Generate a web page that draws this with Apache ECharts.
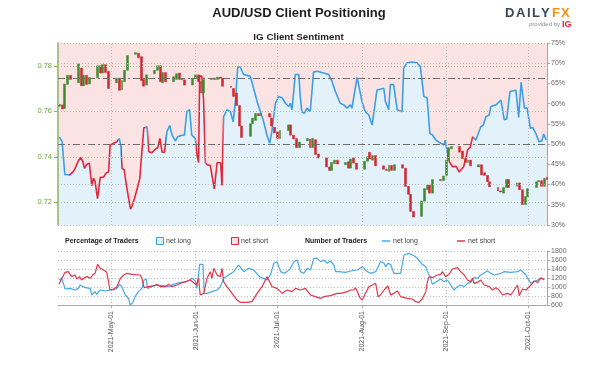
<!DOCTYPE html>
<html><head><meta charset="utf-8">
<script src="https://cdn.jsdelivr.net/npm/echarts@6.0.0/dist/echarts.min.js"></script>
<style>html,body{margin:0;padding:0;background:#fff}#c{width:596px;height:366px}</style>
</head><body><div id="c"></div>
<script>
// ---------- DATA ----------
const monthTicks = ['2021-05-01','2021-06-01','2021-07-01','2021-08-01','2021-09-01','2021-10-01'];
const tickLabels = ['2021-May-01','2021-Jun-01','2021-Jul-01','2021-Aug-01','2021-Sep-01','2021-Oct-01'];
const priceTicks = [0.72, 0.74, 0.76, 0.78];

const candleDates = [
'04-12','04-13','04-14','04-15','04-16','04-19','04-20','04-21','04-22','04-23',
'04-26','04-27','04-28','04-29','04-30','05-03','05-04','05-05','05-06','05-07',
'05-10','05-11','05-12','05-13','05-14','05-17','05-18','05-19','05-20','05-21',
'05-24','05-25','05-26','05-27','05-28','05-31','06-01','06-02','06-03','06-04',
'06-07','06-08','06-09','06-10','06-11','06-14','06-15','06-16','06-17','06-18',
'06-21','06-22','06-23','06-24','06-25','06-28','06-29','06-30','07-01','07-02',
'07-05','07-06','07-07','07-08','07-09','07-12','07-13','07-14','07-15','07-16',
'07-19','07-20','07-21','07-22','07-23','07-26','07-27','07-28','07-29','07-30',
'08-02','08-03','08-04','08-05','08-06','08-09','08-10','08-11','08-12','08-13',
'08-16','08-17','08-18','08-19','08-20','08-23','08-24','08-25','08-26','08-27',
'08-30','08-31','09-01','09-02','09-03','09-06','09-07','09-08','09-09','09-10',
'09-13','09-14','09-15','09-16','09-17','09-20','09-21','09-22','09-23','09-24',
'09-27','09-28','09-29','09-30','10-01','10-04','10-05','10-06','10-07','10-08'];
const opens = [
.7622,.7628,.7612,.7718,.7758, .7725,.7790,.7712,.7758,.7720,
.7748,.7800,.7768,.7805,.7775, .7725,.7745,.7695,.7730,.7780,
.7850,.7855,.7840,.7740,.7715, .7765,.7780,.7800,.7725,.7770,
.7730,.7740,.7768,.7745,.7738, .7715,.7745,.7760,.7730,.7680,
.7740,.7745,.7740,.7750,.7745, .7710,.7700,.7680,.7625,.7535,
.7490,.7545,.7560,.7590,.7580, .7590,.7570,.7530,.7510,.7480,
.7515,.7540,.7495,.7480,.7440, .7470,.7478,.7440,.7475,.7412,
.7395,.7355,.7340,.7370,.7385, .7365,.7378,.7350,.7395,.7372,
.7345,.7380,.7420,.7385,.7405, .7360,.7345,.7335,.7362,.7340,
.7365,.7350,.7270,.7235,.7160, .7138,.7205,.7255,.7275,.7240,
.7300,.7295,.7318,.7385,.7435, .7445,.7425,.7392,.7375,.7385,
.7355,.7365,.7330,.7318,.7290, .7265,.7250,.7240,.7265,.7300,
.7270,.7285,.7255,.7190,.7225, .7265,.7290,.7295,.7270,.7310];
const closes = [
.7630,.7610,.7720,.7758,.7740, .7808,.7712,.7758,.7718,.7748,
.7800,.7768,.7805,.7770,.7700, .7745,.7692,.7735,.7780,.7845,
.7858,.7835,.7735,.7710,.7760, .7780,.7800,.7730,.7770,.7730,
.7752,.7765,.7740,.7738,.7715, .7745,.7760,.7730,.7680,.7740,
.7745,.7740,.7750,.7745,.7710, .7705,.7665,.7625,.7535,.7485,
.7545,.7570,.7590,.7580,.7590, .7575,.7535,.7505,.7480,.7515,
.7540,.7495,.7478,.7440,.7465, .7480,.7440,.7480,.7410,.7395,
.7355,.7340,.7375,.7385,.7368, .7375,.7350,.7390,.7372,.7345,
.7380,.7400,.7390,.7405,.7360, .7345,.7340,.7362,.7340,.7365,
.7350,.7270,.7235,.7160,.7135, .7205,.7260,.7275,.7240,.7300,
.7295,.7315,.7385,.7440,.7445, .7420,.7392,.7375,.7385,.7360,
.7365,.7320,.7318,.7290,.7268, .7250,.7245,.7265,.7300,.7265,
.7285,.7255,.7190,.7225,.7260, .7290,.7295,.7270,.7305,.7300];
const lows = [
.7600,.7590,.7605,.7710,.7725, .7718,.7705,.7700,.7700,.7712,
.7742,.7760,.7762,.7760,.7690, .7715,.7678,.7688,.7725,.7770,
.7840,.7820,.7725,.7690,.7705, .7755,.7770,.7715,.7715,.7715,
.7720,.7725,.7735,.7725,.7690, .7705,.7735,.7720,.7665,.7670,
.7725,.7725,.7730,.7720,.7700, .7695,.7655,.7615,.7520,.7475,
.7480,.7535,.7555,.7570,.7560, .7560,.7525,.7500,.7465,.7470,
.7508,.7485,.7465,.7415,.7430, .7460,.7430,.7430,.7400,.7385,
.7345,.7290,.7330,.7360,.7355, .7345,.7325,.7340,.7360,.7340,
.7335,.7370,.7380,.7380,.7350, .7340,.7330,.7325,.7330,.7335,
.7340,.7265,.7225,.7150,.7106, .7125,.7195,.7240,.7230,.7225,
.7285,.7280,.7310,.7380,.7425, .7415,.7370,.7355,.7365,.7355,
.7340,.7310,.7305,.7280,.7260, .7225,.7222,.7225,.7255,.7255,
.7260,.7235,.7170,.7180,.7215, .7255,.7275,.7240,.7265,.7295];
const highs = [
.7645,.7640,.7730,.7765,.7765, .7815,.7800,.7765,.7768,.7758,
.7812,.7808,.7815,.7818,.7785, .7760,.7755,.7745,.7790,.7862,
.7891,.7870,.7850,.7755,.7770, .7790,.7815,.7810,.7790,.7785,
.7760,.7780,.7780,.7755,.7745, .7755,.7770,.7765,.7740,.7745,
.7755,.7760,.7762,.7770,.7755, .7720,.7710,.7690,.7635,.7545,
.7555,.7580,.7600,.7610,.7600, .7600,.7580,.7540,.7525,.7525,
.7548,.7598,.7510,.7495,.7475, .7490,.7500,.7490,.7480,.7420,
.7400,.7365,.7385,.7395,.7390, .7385,.7395,.7400,.7410,.7380,
.7385,.7410,.7428,.7415,.7415, .7362,.7355,.7370,.7375,.7375,
.7375,.7355,.7280,.7245,.7175, .7210,.7268,.7285,.7285,.7310,
.7310,.7325,.7390,.7455,.7478, .7455,.7435,.7410,.7395,.7395,
.7375,.7375,.7345,.7325,.7295, .7275,.7265,.7275,.7315,.7310,
.7295,.7290,.7260,.7235,.7265, .7300,.7305,.7300,.7315,.7325];

// IG client sentiment: [days after 2021-05-01, % net long]
const sentiment = [
[-19.0,51.8],[-18.0,50.6],[-17.0,42.5],[-15.1,42.4],[-13.9,43.2],[-13.2,44.0],[-12.6,43.6],[-12.0,45.9],
[-11.2,46.7],[-10.4,45.7],[-9.8,44.0],[-8.9,45.0],[-8.0,45.3],[-7.1,39.7],[-6.5,41.6],[-5.9,40.8],
[-5.0,36.5],[-4.0,41.8],[-2.8,41.8],[-1.8,42.9],[-0.9,43.1],[-0.4,49.7],[0.9,50.2],[2.1,50.6],
[3.0,51.4],[3.6,49.3],[4.0,44.0],[4.8,43.6],[5.6,39.8],[6.1,39.4],[7.1,33.9],[7.7,34.7],
[8.6,36.6],[9.6,39.1],[10.5,41.4],[11.2,41.6],[12.0,54.0],[13.2,54.3],[13.8,48.1],[15.0,47.9],
[16.3,48.8],[17.1,49.1],[17.9,51.4],[18.7,48.0],[19.6,48.0],[20.5,53.1],[21.5,54.6],[22.4,52.2],
[23.6,50.8],[24.4,51.8],[26.0,52.2],[26.9,52.2],[27.8,58.0],[28.8,58.5],[29.6,52.2],[30.3,51.8],
[30.9,51.4],[31.5,47.4],[32.1,45.4],[32.5,66.8],[33.3,66.8],[33.9,61.4],[34.6,45.4],[35.2,44.9],
[36.4,44.7],[37.1,44.9],[37.9,38.9],[38.9,45.4],[39.5,45.5],[40.2,45.4],[40.7,39.8],[41.3,56.8],
[42.6,58.5],[43.8,58.0],[44.8,55.5],[45.6,60.5],[46.5,69.2],[47.4,69.0],[48.6,67.2],[49.9,67.0],
[51.1,66.8],[53.6,60.5],[56.0,55.5],[57.2,52.2],[58.2,50.2],[59.0,53.1],[60.3,60.1],[61.5,61.8],
[62.8,61.4],[64.0,60.1],[65.2,59.3],[65.8,60.1],[66.4,58.5],[67.6,67.2],[68.9,67.2],[69.4,62.0],
[70.0,58.0],[70.9,57.6],[71.9,58.9],[73.1,58.0],[74.3,67.8],[75.6,68.0],[78.0,67.6],[79.9,67.2],
[81.1,65.5],[82.3,63.0],[84.1,60.1],[85.4,59.7],[86.6,58.9],[87.8,59.7],[88.4,58.9],[90.3,66.5],
[90.9,66.8],[92.1,60.5],[93.3,58.0],[94.6,57.2],[95.8,54.7],[96.4,54.9],[97.6,63.4],[100.1,63.8],
[100.7,60.5],[101.9,58.5],[102.5,64.7],[103.7,64.7],[105.0,58.5],[106.8,58.0],[107.4,68.8],[108.6,70.1],
[110.5,70.3],[112.3,70.1],[113.5,69.2],[114.8,61.8],[116.0,61.4],[117.0,52.6],[117.9,52.3],[119.2,51.0],
[121.0,50.2],[122.2,49.8],[122.6,51.0],[123.7,46.9],[124.2,45.6],[125.3,44.4],[126.6,44.5],[127.8,43.1],
[128.4,42.7],[129.4,44.4],[130.2,46.5],[130.9,48.6],[131.8,49.2],[132.7,51.8],[133.9,51.0],[134.5,50.6],
[135.7,54.3],[136.6,54.7],[137.6,56.8],[138.8,57.2],[139.4,59.3],[141.3,59.7],[143.1,60.9],[144.3,56.0],
[145.2,56.2],[146.4,63.0],[148.6,63.3],[149.6,56.6],[150.5,65.3],[151.7,58.9],[152.7,58.9],[153.9,53.9],
[154.8,54.1],[156.0,52.5],[157.0,50.6],[158.1,50.8],[158.8,52.5],[159.7,51.0]];
// spans (days after 2021-05-01) where the sentiment line is drawn red (net short)
const netShortSpans = [[-15.5,2.4],[3.8,12.4],[13.5,20.2],[31.3,34.3],[35.0,41.1],[123.4,132.9]];

// Number of traders: [days after 2021-05-01, count]
const tradersLong = [
[-19.1,1155],[-18.1,1192],[-16.9,955],[-15.1,970],[-13.2,933],[-12.0,970],[-11.4,1044],[-9.5,985],
[-7.7,970],[-7.1,822],[-5.9,896],[-5.3,837],[-4.0,933],[-2.2,911],[-0.4,933],[0.9,933],[2.1,970],
[3.1,1059],[3.9,1007],[5.2,822],[6.4,748],[7.0,600],[8.0,659],[8.8,785],[10.0,896],[11.3,970],
[12.1,1155],[12.9,1178],[13.4,970],[15.0,1007],[16.8,1044],[19.2,1029],[21.1,1007],[22.9,1059],
[25.4,1104],[27.8,1118],[29.7,1192],[30.9,1133],[31.5,970],[32.5,1504],[33.7,1504],[34.2,859],
[35.2,859],[37.0,896],[38.9,933],[40.1,1007],[41.3,1192],[43.1,1267],[45.0,1341],[46.8,1489],
[48.7,1341],[50.5,1415],[52.3,1378],[54.8,1207],[56.0,1192],[57.2,1155],[58.5,1267],[59.7,1526],
[60.9,1563],[62.2,1341],[63.4,1304],[64.6,1341],[65.8,1415],[67.1,1563],[68.3,1600],[69.5,1341],
[70.7,1304],[72.0,1415],[73.2,1378],[74.4,1637],[75.6,1637],[76.9,1563],[78.1,1600],[79.3,1526],
[80.5,1578],[81.8,1489],[82.4,1341],[83.6,1341],[86.1,1326],[87.9,1355],[90.4,1378],[92.2,1452],
[92.8,1415],[94.0,1341],[95.3,1304],[97.1,1341],[98.9,1563],[100.2,1526],[100.8,1452],[101.6,1526],
[102.6,1504],[103.8,1304],[105.1,1304],[106.3,1304],[107.5,1711],[109.3,1748],[111.2,1696],[112.4,1637],
[113.0,1600],[114.2,1504],[115.5,1452],[116.1,1341],[117.3,1193],[117.9,1059],[118.5,1082],[119.8,1133],
[121.0,1178],[122.2,1118],[123.4,1155],[124.7,1044],[125.9,933],[127.1,1007],[128.3,1044],[129.6,1007],
[130.8,1082],[132.0,1104],[133.2,1207],[134.5,1193],[135.7,1267],[138.1,1355],[139.4,1304],[140.6,1267],
[143.1,1304],[144.3,1341],[146.7,1326],[149.2,1341],[150.4,1378],[151.0,1415],[152.3,1267],[152.9,1193],
[154.1,1082],[155.3,1119],[156.6,1156],[157.8,1193],[159.0,1178]];
const tradersShort = [
[-19.1,1059],[-18.1,1193],[-16.9,1326],[-15.7,1341],[-14.5,1230],[-13.2,1267],[-12.6,1178],[-11.6,1230],
[-10.8,1156],[-9.8,1207],[-8.9,1230],[-7.7,1193],[-6.7,1267],[-5.9,1304],[-5.0,1504],[-4.0,1415],
[-2.8,1378],[-1.6,1326],[-0.4,933],[0.9,955],[2.1,1007],[3.4,1193],[4.6,1267],[5.8,1304],[7.7,1281],
[10.7,1267],[11.3,1193],[12.1,985],[13.7,1007],[15.6,1029],[16.8,1059],[18.0,1007],[18.6,1044],
[19.9,1007],[21.1,1059],[22.3,1007],[24.2,1044],[26.6,1104],[29.1,1156],[31.3,1044],[32.1,1193],
[32.7,822],[34.0,859],[35.2,1193],[36.4,1341],[37.0,1193],[37.7,1415],[38.9,1267],[40.1,1230],
[40.7,1415],[41.3,1118],[42.5,1007],[44.4,859],[46.2,711],[47.4,659],[49.9,659],[51.7,674],
[53.6,859],[55.4,1007],[57.2,1230],[59.1,1007],[60.9,970],[62.8,859],[64.6,933],[66.4,896],
[67.7,970],[69.5,933],[71.3,970],[73.2,822],[75.0,785],[76.9,748],[78.1,785],[80.5,807],
[83.0,859],[84.2,859],[86.7,896],[87.9,933],[89.1,933],[89.7,985],[90.4,896],[91.3,763],
[92.2,711],[93.4,859],[94.6,1007],[95.9,1044],[97.1,1082],[98.0,785],[98.9,822],[100.2,933],
[101.6,1022],[102.6,822],[103.8,859],[105.1,911],[106.3,785],[108.7,748],[110.6,733],[111.8,674],
[113.0,659],[114.2,733],[115.5,896],[116.1,1118],[116.7,1230],[117.9,1207],[119.8,1267],[121.0,1281],
[121.6,1341],[122.8,1230],[124.0,1281],[125.3,1400],[127.1,1430],[128.3,1341],[129.6,1267],[130.8,1156],
[132.0,1119],[132.6,1193],[133.2,1082],[134.5,1104],[135.7,1156],[136.9,1044],[138.8,1007],[140.0,933],
[141.2,985],[142.4,933],[143.7,822],[145.5,859],[146.7,822],[149.2,1044],[149.8,807],[151.0,955],
[152.3,933],[154.1,1044],[155.3,1134],[156.6,1104],[157.8,1207],[159.0,1156]];

// ---------- BUILD ----------
const FONT = '"Liberation Sans", Arial, sans-serif';
const BLUE = '#3b9fe6', RED = '#e0283c';
const DAY = 864e5;
const ts = s => { const p = s.split('-').map(Number); return Date.UTC(p[0], p[1]-1, p[2]); };
const MAY1 = ts('2021-05-01');
const fromDay = d => MAY1 + d * DAY;
const X_MIN = fromDay(-19.5), X_MAX = fromDay(160);
const monthTs = monthTicks.map(ts);

const candleTs = candleDates.map(s => ts('2021-' + s));
const wickData = candleTs.map((t, i) => [t, lows[i], highs[i], lows[i], highs[i]]);
const bodyData = candleTs.map((t, i) => [t, opens[i], closes[i], Math.min(opens[i], closes[i]), Math.max(opens[i], closes[i])]);

const pieces = [];
let prev = -400;
netShortSpans.forEach(([a, b]) => {
  pieces.push({gte: fromDay(prev), lt: fromDay(a), color: BLUE});
  pieces.push({gte: fromDay(a), lt: fromDay(b), color: RED});
  prev = b;
});
pieces.push({gte: fromDay(prev), lte: fromDay(600), color: BLUE});

const dotGreen = {type: [1, 2], color: '#a9c48b', width: 1};
const dotGray = {type: [1, 2], color: '#bdbdbd', width: 1};
const dashDot = {type: [7, 3, 2, 3], color: '#6d6d6d', width: 1};
const ml = (data) => ({silent: true, symbol: ['none', 'none'], label: {show: false}, animation: false, data});

const fmtLabel = v => { const i = monthTs.indexOf(v); return i >= 0 ? tickLabels[i] : ''; };

// DailyFX logo letters
const logoLetters = [['D',505,'#3a4657'],['A',516,'#3a4657'],['I',527,'#3a4657'],['L',532,'#3a4657'],['Y',541,'#3a4657'],['F',552,'#f39019'],['X',561,'#f39019']];

const chart = echarts.init(document.getElementById('c'), null, {renderer: 'canvas'});
chart.setOption({
  animation: false,
  backgroundColor: '#fff',
  textStyle: {fontFamily: FONT},
  grid: [
    {left: 58, right: 49, top: 43, height: 182, show: true, backgroundColor: '#fbe3e4', borderWidth: 0, outerBoundsMode: 'none'},
    {left: 58, right: 49, top: 251, height: 54, outerBoundsMode: 'none'}
  ],
  xAxis: [
    {type: 'value', gridIndex: 0, min: X_MIN, max: X_MAX, show: false, splitLine: {show: false}},
    {type: 'value', gridIndex: 1, min: X_MIN, max: X_MAX,
      axisLine: {show: true, lineStyle: {color: '#a8a8a8'}},
      axisTick: {show: true, customValues: monthTs, length: 3, lineStyle: {color: '#a8a8a8'}},
      axisLabel: {customValues: monthTs, rotate: 90, fontSize: 7, color: '#555', margin: 6, fontFamily: FONT, formatter: fmtLabel},
      splitLine: {show: true, lineStyle: dotGray}}
  ],
  yAxis: [
    {type: 'value', gridIndex: 0, position: 'left', min: 0.71, max: 0.79,
      axisLine: {show: true, lineStyle: {color: '#7fba4c', width: 1.5}},
      axisTick: {show: true, customValues: priceTicks, length: 4, lineStyle: {color: '#7fba4c'}},
      axisLabel: {customValues: priceTicks, color: '#6ea544', fontSize: 7.5, margin: 6, fontFamily: FONT, formatter: v => v.toFixed(2)},
      splitLine: {show: false}},
    {type: 'value', gridIndex: 0, position: 'right', min: 30, max: 75, interval: 5,
      axisLine: {show: true, lineStyle: {color: '#a8a8a8'}},
      axisTick: {show: true, length: 3, lineStyle: {color: '#a8a8a8'}},
      axisLabel: {formatter: v => v + '%', color: '#666', fontSize: 7, margin: 4, fontFamily: FONT},
      splitLine: {show: false}},
    {type: 'value', gridIndex: 1, position: 'right', min: 600, max: 1800, interval: 200,
      axisLine: {show: true, lineStyle: {color: '#a8a8a8'}},
      axisTick: {show: true, length: 3, lineStyle: {color: '#a8a8a8'}},
      axisLabel: {formatter: v => String(v), color: '#666', fontSize: 7, margin: 4, fontFamily: FONT},
      splitLine: {show: true, lineStyle: dotGray}}
  ],
  visualMap: {show: false, type: 'piecewise', seriesIndex: 0, dimension: 0, pieces},
  series: [
    {name: 'sentiment', type: 'line', xAxisIndex: 0, yAxisIndex: 1, z: 2,
      data: sentiment.map(p => [fromDay(p[0]), p[1]]),
      showSymbol: false, symbol: 'none', lineStyle: {width: 1.6},
      areaStyle: {color: '#e3f1fb', opacity: 1},
      markLine: ml([
        {yAxis: 75, lineStyle: dotGreen}, {yAxis: 30, lineStyle: dotGreen},
        {yAxis: 70, lineStyle: dotGray}, {yAxis: 40, lineStyle: dotGray},
        {yAxis: 66.2, lineStyle: dashDot}, {yAxis: 50, lineStyle: dashDot}
      ])},
    {name: 'wick', type: 'candlestick', xAxisIndex: 0, yAxisIndex: 0, z: 3,
      encode: {x: 0, y: [1, 2, 3, 4]}, data: wickData, barWidth: 1,
      itemStyle: {color: '#8d8d8d', color0: '#8d8d8d', borderColor: '#8d8d8d', borderColor0: '#8d8d8d', borderWidth: 0},
      markLine: ml(
        priceTicks.map(v => ({yAxis: v, lineStyle: dotGreen}))
          .concat(monthTs.map(t => ({xAxis: t, lineStyle: dotGray})))
          .concat([{xAxis: X_MIN, lineStyle: dotGray}])
      )},
    {name: 'body', type: 'candlestick', xAxisIndex: 0, yAxisIndex: 0, z: 4,
      encode: {x: 0, y: [1, 2, 3, 4]}, data: bodyData, barWidth: 2.4,
      itemStyle: {color: '#3f8a2c', color0: '#d0262f', borderColor: '#3f8a2c', borderColor0: '#d0262f', borderWidth: 0.5}},
    {name: 'net long traders', type: 'line', xAxisIndex: 1, yAxisIndex: 2, z: 3,
      data: tradersLong.map(p => [fromDay(p[0]), p[1]]), showSymbol: false, symbol: 'none',
      lineStyle: {color: '#45a8ec', width: 1.2}},
    {name: 'net short traders', type: 'line', xAxisIndex: 1, yAxisIndex: 2, z: 3,
      data: tradersShort.map(p => [fromDay(p[0]), p[1]]), showSymbol: false, symbol: 'none',
      lineStyle: {color: '#e2374a', width: 1.2}}
  ],
  graphic: [
    {type: 'text', x: 299, y: 13, style: {text: 'AUD/USD Client Positioning', fontSize: 13, fontWeight: 'bold', fontFamily: FONT, fill: '#1e1e1e', textAlign: 'center', textVerticalAlign: 'middle'}},
    {type: 'text', x: 298.5, y: 37, style: {text: 'IG Client Sentiment', fontSize: 9.8, fontWeight: 'bold', fontFamily: FONT, fill: '#1e1e1e', textAlign: 'center', textVerticalAlign: 'middle'}}
  ].concat(logoLetters.map(([ch, x, col]) => (
    {type: 'text', x, y: 13, style: {text: ch, fontSize: 13, fontWeight: 'bold', fontFamily: FONT, fill: col, textAlign: 'left', textVerticalAlign: 'middle'}}
  ))).concat([
    {type: 'text', x: 560, y: 24.5, style: {text: 'provided by', fontSize: 6, fontFamily: FONT, fill: '#8a8a8a', textAlign: 'right', textVerticalAlign: 'middle'}},
    {type: 'text', x: 562, y: 24.5, style: {text: 'IG', fontSize: 9, fontWeight: 'bold', fontFamily: FONT, fill: '#e8212f', textAlign: 'left', textVerticalAlign: 'middle'}},
    {type: 'text', x: 65, y: 241, style: {text: 'Percentage of Traders', fontSize: 7, fontWeight: 'bold', fontFamily: FONT, fill: '#222', textVerticalAlign: 'middle'}},
    {type: 'rect', shape: {x: 156.5, y: 237.5, width: 7, height: 7}, style: {fill: '#e3f1fb', stroke: BLUE, lineWidth: 1}},
    {type: 'text', x: 166, y: 241, style: {text: 'net long', fontSize: 7, fontFamily: FONT, fill: '#444', textVerticalAlign: 'middle'}},
    {type: 'rect', shape: {x: 231.5, y: 237.5, width: 7, height: 7}, style: {fill: '#fbe3e4', stroke: RED, lineWidth: 1}},
    {type: 'text', x: 241, y: 241, style: {text: 'net short', fontSize: 7, fontFamily: FONT, fill: '#444', textVerticalAlign: 'middle'}},
    {type: 'text', x: 305, y: 241, style: {text: 'Number of Traders', fontSize: 7, fontWeight: 'bold', fontFamily: FONT, fill: '#222', textVerticalAlign: 'middle'}},
    {type: 'line', shape: {x1: 382, y1: 241, x2: 390, y2: 241}, style: {stroke: '#45a8ec', lineWidth: 1.5}},
    {type: 'text', x: 393, y: 241, style: {text: 'net long', fontSize: 7, fontFamily: FONT, fill: '#444', textVerticalAlign: 'middle'}},
    {type: 'line', shape: {x1: 457, y1: 241, x2: 465, y2: 241}, style: {stroke: '#e2374a', lineWidth: 1.5}},
    {type: 'text', x: 468, y: 241, style: {text: 'net short', fontSize: 7, fontFamily: FONT, fill: '#444', textVerticalAlign: 'middle'}}
  ])
});
</script></body></html>
